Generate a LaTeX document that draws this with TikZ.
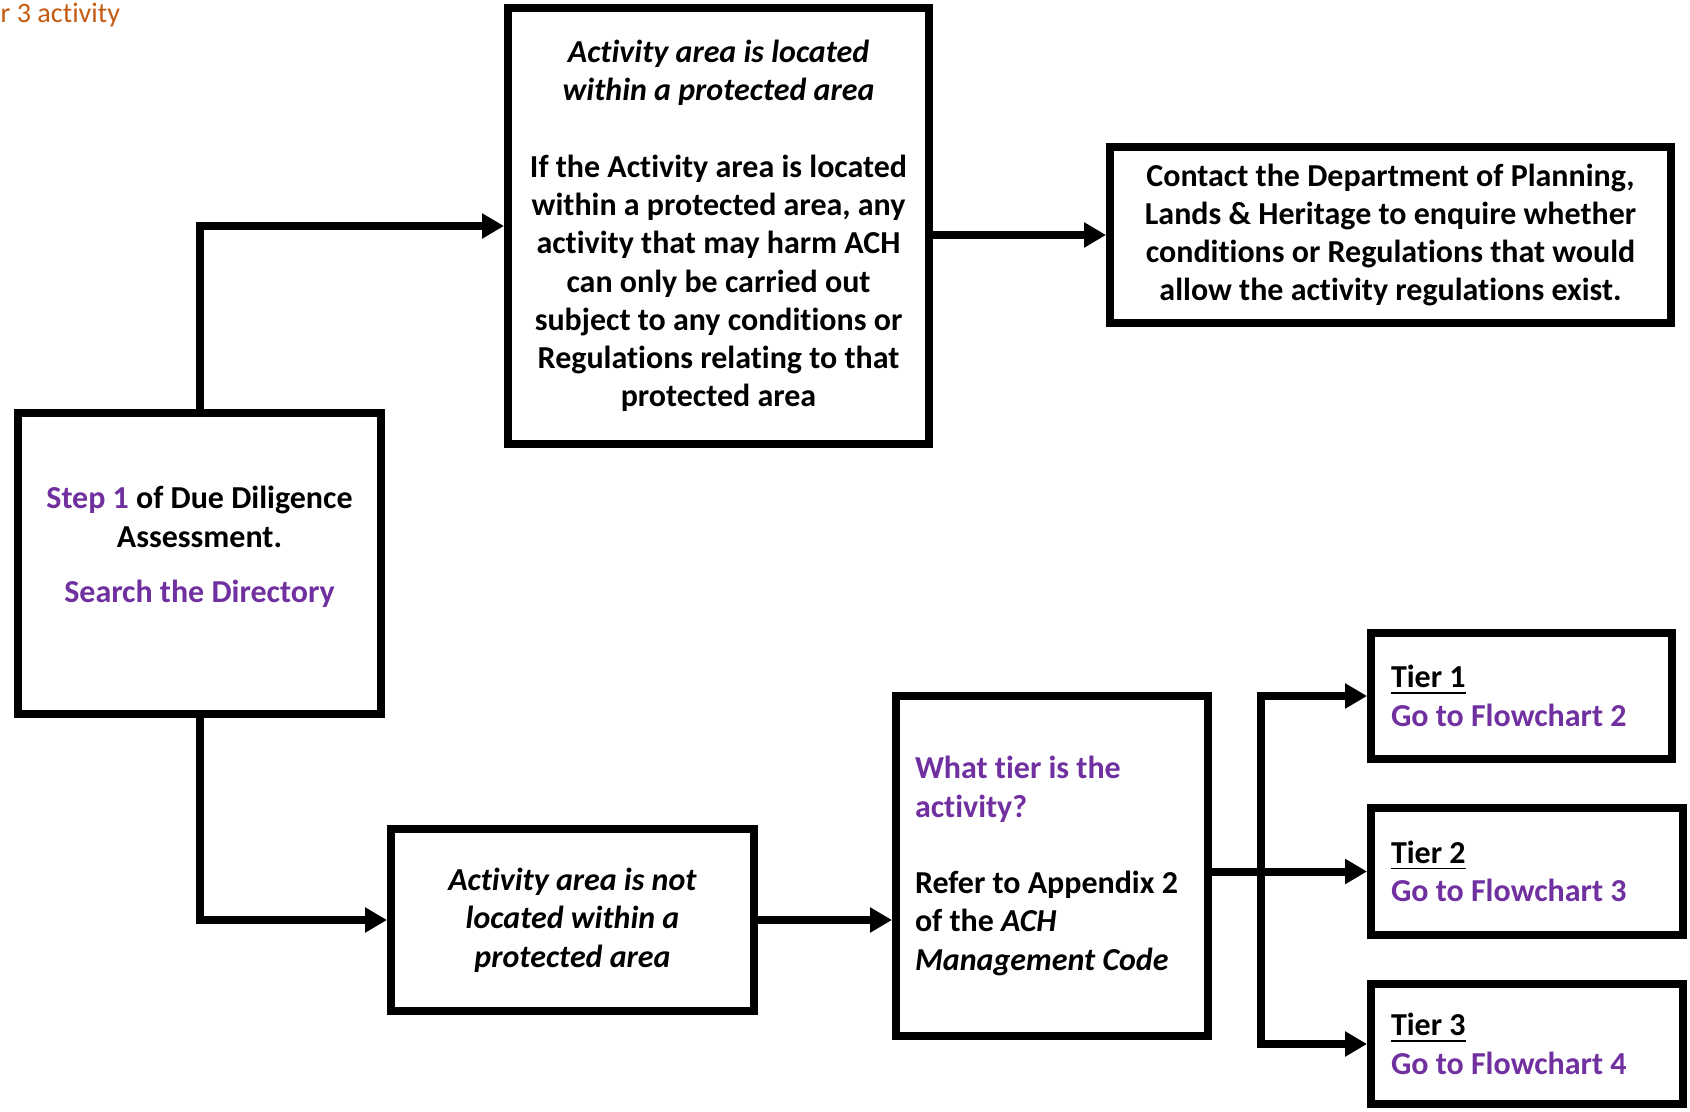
\documentclass[tikz,border=0pt]{standalone}
\usepackage{fontspec}
\setmainfont{Carlito}[Ligatures=NoCommon]
\usepackage{xcolor}
\usetikzlibrary{arrows.meta,positioning}
\definecolor{stepviolet}{HTML}{7030A0}
\definecolor{noteorange}{HTML}{C55A11}
\newcommand{\vio}[1]{\textcolor{stepviolet}{#1}}

\begin{document}
\begin{tikzpicture}[
  box/.style={draw, line width=0.08cm, align=center, inner sep=0pt,
    font=\fontsize{9.1pt}{10.9pt}\selectfont\bfseries},
  tierbox/.style={box, align=flush left},
  arr/.style={line width=0.08cm, -{Triangle[length=0.22cm,width=0.24cm]}},
  arrs/.style={line width=0.08cm,
    {Triangle[length=0.22cm,width=0.24cm]}-{Triangle[length=0.22cm,width=0.24cm]}}]
  \useasboundingbox (0,0) rectangle (16.9,11.11);
  \node[anchor=base west, inner sep=0pt, text=noteorange,
    font=\fontsize{8pt}{9.6pt}\selectfont] (note) at (0,10.88) {r 3 activity};
  % step 1 and the two branches
  \node[box, minimum width=3.63cm, minimum height=3.01cm] (step) at (1.995,5.475)
    {\vio{Step 1} of Due Diligence\\ Assessment.\\[0.17cm]
     \vio{Search the Directory}\\ \mbox{}};
  \node[box, minimum width=4.21cm, minimum height=4.36cm] (inside) at (7.185,8.85)
    {\textit{Activity area is located}\\ \textit{within a protected area}\\[0.38cm]
     If the Activity area is located\\ within a protected area, any\\
     activity that may harm ACH\\ can only be carried out\\
     subject to any conditions or\\ Regulations relating to that\\ protected area};
  \node[box, minimum width=5.61cm, minimum height=1.76cm] (contact) at (13.905,8.76)
    {Contact the Department of Planning,\\ Lands \& Heritage to enquire whether\\
     conditions or Regulations that would\\ allow the activity regulations exist.};
  \node[box, minimum width=3.63cm, minimum height=1.82cm] (outside) at (5.725,1.91)
    {\textit{Activity area is not}\\ \textit{located within a}\\ \textit{protected area}};
  \node[tierbox, text width=2.74cm, minimum width=3.12cm, minimum height=3.40cm]
    (whichtier) at (10.52,2.45)
    {\vio{What tier is the}\\ \vio{activity?}\\[0.38cm]
     Refer to Appendix 2\\ of the \textit{ACH}\\ \textit{Management Code}};
  % tiers
  \node[tierbox, text width=2.61cm, minimum width=3.01cm, minimum height=1.26cm]
    (tier1) at (15.215,4.15) {\underline{Tier 1}\\ \vio{Go to Flowchart 2}};
  \node[tierbox, text width=2.72cm, minimum width=3.12cm, minimum height=1.27cm]
    (tier2) at (15.27,2.395) {\underline{Tier 2}\\ \vio{Go to Flowchart 3}};
  \node[tierbox, text width=2.72cm, minimum width=3.12cm, minimum height=1.20cm]
    (tier3) at (15.27,0.67) {\underline{Tier 3}\\ \vio{Go to Flowchart 4}};
  \coordinate (bus) at (12.61,2.40);
  % connectors
  \draw[arr] (step.north) |- (inside.west);
  \draw[arr] (step.south) |- (outside.west);
  \draw[arr] (inside.east |- contact.west) -- (contact.west);
  \draw[arr] (outside.east) -- (outside.east -| whichtier.west);
  \draw[arr] (whichtier.east |- tier2.west) -- (tier2.west);
  \draw[arrs] (tier1.west) -| (bus) |- (tier3.west);
\end{tikzpicture}
\end{document}
